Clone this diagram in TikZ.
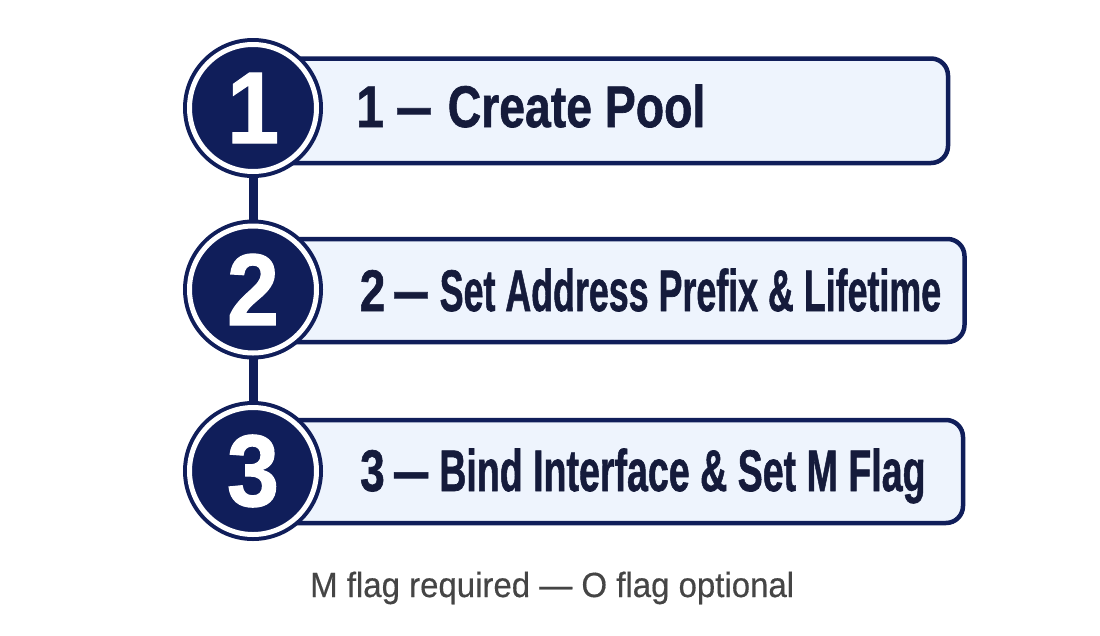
\documentclass[tikz,border=0pt]{standalone}
\usepackage{fontspec}
\usepackage{graphicx}
\setmainfont{Liberation Sans}
\newfontfamily\heavyfont[FakeBold=1.2]{Liberation Sans Bold}
\newfontfamily\notefont[FakeBold=0.4]{Liberation Sans}
\usetikzlibrary{backgrounds}
\definecolor{navy}{HTML}{101E5A}
\definecolor{boxfill}{HTML}{EEF4FD}
\definecolor{labeltext}{HTML}{151B3B}
\definecolor{notegray}{HTML}{454545}
\tikzset{
  stepcircle/.style={circle, fill=navy, draw=navy, double=white, double distance=5pt,
    line width=4pt, minimum size=127pt, inner sep=0pt, text=white,
    font=\fontsize{102}{102}\selectfont\heavyfont},
  stepbox/.style={rectangle, rounded corners=17pt, draw=navy, fill=boxfill,
    line width=4.5pt, inner sep=0pt},
  steplabel/.style={anchor=base west, inner sep=0pt, text=labeltext,
    font=\fontsize{58.7}{58.7}\selectfont\heavyfont},
  stepline/.style={draw=navy, line width=9pt},
  notetext/.style={anchor=base west, inner sep=0pt, text=notegray,
    font=\fontsize{35}{35}\selectfont\notefont}
}
\begin{document}
\begin{tikzpicture}[x=1pt,y=-1pt]
\useasboundingbox (0,0) rectangle (1100,635);
% boxes
\node[stepbox, minimum width=686pt, minimum height=104.5pt] (b1) at (605,110.75) {};
\node[stepbox, minimum width=702.5pt, minimum height=103pt] (b2) at (613.25,290.5) {};
\node[stepbox, minimum width=701pt, minimum height=103pt] (b3) at (612.5,471.5) {};
% labels
\node[steplabel] (t1) at (356,127) {\scalebox{0.85}[1]{1}\hspace{13.3pt}\scalebox{0.57}[1]{—}\hspace{17pt}\scalebox{0.79}[1]{Create Pool}};
\node[steplabel] (t2) at (359.6,311) {\scalebox{0.78}[1]{2}\hspace{9pt}\scalebox{0.57}[1]{—}\hspace{12pt}\scalebox{0.61}[1]{Set Address Prefix \& Lifetime}};
\node[steplabel] (t3) at (360,491) {\scalebox{0.75}[1]{3}\hspace{9.5pt}\scalebox{0.58}[1]{—}\hspace{11pt}\scalebox{0.64}[1]{Bind Interface \& Set M Flag}};
% circles
\node[stepcircle] (c1) at (253,108) {\scalebox{0.92}[1]{1}};
\node[stepcircle] (c2) at (253,289.5) {\scalebox{0.92}[1]{2}};
\node[stepcircle] (c3) at (253,471) {\scalebox{0.92}[1]{3}};
\begin{scope}[on background layer]
\fill[white] (0,0) rectangle (1100,635);
\draw[stepline] (c1.center) -- (c2.center);
\draw[stepline] (c2.center) -- (c3.center);
\end{scope}
% note
\node[notetext] (note) at (310,597) {\resizebox{484pt}{\height}{M flag required — O flag optional}};
\end{tikzpicture}
\end{document}
